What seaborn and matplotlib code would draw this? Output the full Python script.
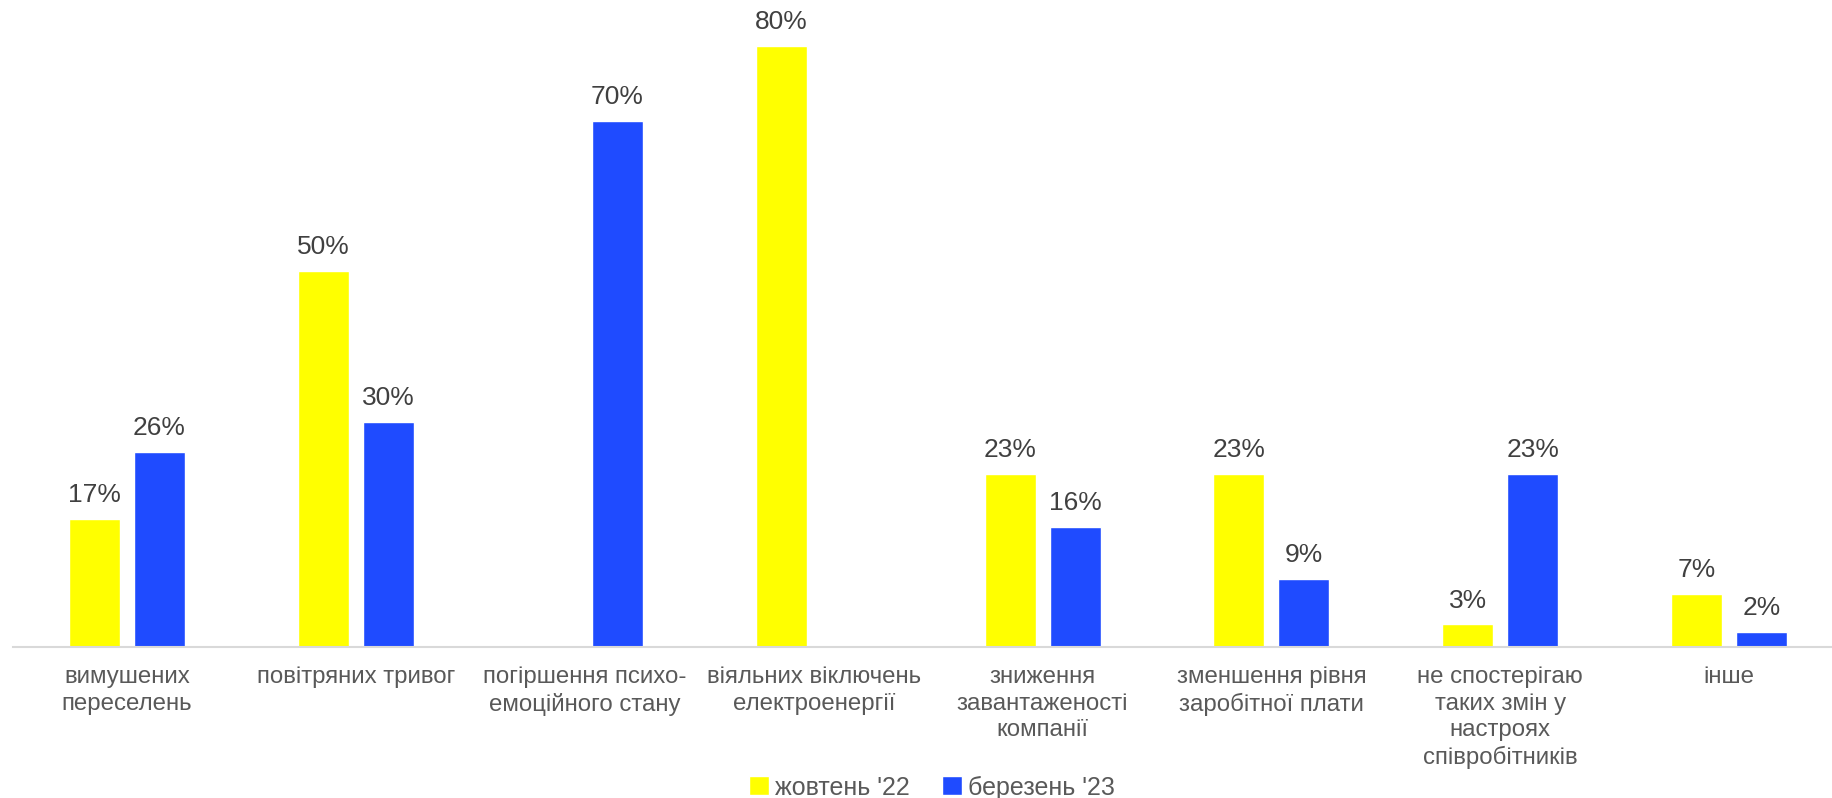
import matplotlib
matplotlib.use("Agg")
import matplotlib.pyplot as plt
import seaborn as sns
import pandas as pd
import numpy as np

# Survey answers: categories and the share of respondents per wave (%)
categories = [
    "вимушених\nпереселень",
    "повітряних тривог",
    "погіршення психо-\nемоційного стану",
    "віяльних віключень\nелектроенергії",
    "зниження\nзавантаженості\nкомпанії",
    "зменшення рівня\nзаробітної плати",
    "не спостерігаю\nтаких змін у\nнастроях\nспівробітників",
    "інше",
]
series_names = ["жовтень '22", "березень '23"]
oct22 = [17, 50, np.nan, 80, 23, 23, 3, 7]
mar23 = [26, 30, 70, np.nan, 16, 9, 23, 2]
colors = ["#FFFF00", "#1F4BFF"]

df = pd.DataFrame({
    "category": categories * 2,
    "period": [series_names[0]] * len(categories) + [series_names[1]] * len(categories),
    "value": oct22 + mar23,
})

sns.set_theme(style="white")
plt.rcParams["font.family"] = ["Liberation Sans", "DejaVu Sans"]

W, H = 1832, 798
fig = plt.figure(figsize=(W / 100, H / 100), dpi=100)
ax_left, ax_bottom, ax_right, ax_top = 12.6, 647, 1843.7, 46
ax = fig.add_axes([ax_left / W, 1 - ax_bottom / H, (ax_right - ax_left) / W, (ax_bottom - ax_top) / H])

sns.barplot(
    data=df, x="category", y="value", hue="period",
    order=categories, hue_order=series_names,
    palette=colors, saturation=1, width=0.568, gap=0.2155,
    errorbar=None, legend=True, ax=ax,
)

ax.set_xlim(-0.5, len(categories) - 0.5)
ax.set_ylim(0, 80)
ax.set_xlabel("")
ax.set_ylabel("")
ax.set_yticks([])
for side in ["top", "right", "left"]:
    ax.spines[side].set_visible(False)
ax.spines["bottom"].set_color("#D9D9D9")
ax.spines["bottom"].set_linewidth(1.5)
ax.tick_params(axis="x", length=0, pad=14, labelsize=17.3, labelcolor="#595959")
for lbl in ax.get_xticklabels():
    lbl.set_linespacing(1.25)

# value labels above each bar
for container in ax.containers:
    for patch in container.patches:
        h = patch.get_height()
        if np.isnan(h) or h == 0:
            continue
        ax.annotate(
            f"{h:.0f}%",
            (patch.get_x() + patch.get_width() / 2, h),
            xytext=(0, 12.2), textcoords="offset points",
            ha="center", va="baseline", fontsize=19, color="#404040",
            annotation_clip=False,
        )

handles, labels = ax.get_legend_handles_labels()
ax.get_legend().remove()
fig.legend(
    handles, labels, loc="lower center", bbox_to_anchor=(932 / W, -0.002),
    ncol=2, frameon=False, fontsize=18, labelcolor="#595959",
    handlelength=0.78, handleheight=0.78, handletextpad=0.25,
    columnspacing=1.3, borderaxespad=0, borderpad=0,
)

fig.savefig("out.png", dpi=100, facecolor="white")
